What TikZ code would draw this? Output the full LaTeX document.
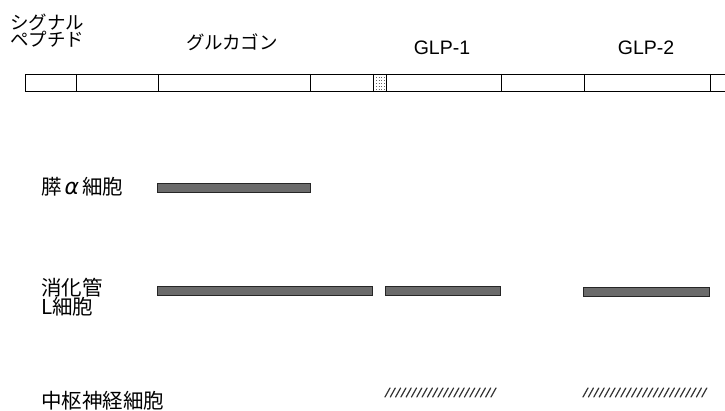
\documentclass[tikz,border=0pt]{standalone}
\usepackage{fontspec}
\setmainfont{Noto Sans CJK JP}
\newfontfamily\latinsans{Liberation Sans}
\newfontfamily\grkfont{DejaVu Sans}
\begin{document}
\begin{tikzpicture}[x=1pt,y=-1pt,
  toplabel/.style={font=\fontsize{18.5}{20}\selectfont, inner sep=0pt, align=left},
  glplabel/.style={font=\latinsans\fontsize{19.5}{21}\selectfont, inner sep=0pt},
  leftlabel/.style={font=\fontsize{20.5}{22}\selectfont, inner sep=0pt, anchor=west, align=left},
  segline/.style={draw=black, line width=0.9pt},
  expbar/.style={fill=black!58, draw=black!85, line width=0.8pt},
  hatchstroke/.style={draw=black!80, line width=1.2pt, line cap=round}]
\useasboundingbox (0,0) rectangle (725,411);
% top labels
\node[toplabel, anchor=west] (sig) at (10,31) {シグナル\\[-3pt]ペプチド};
\node[toplabel] (glu) at (232,42) {グルカゴン};
\node[glplabel] (glp1) at (442,48) {GLP-1};
\node[glplabel] (glp2) at (646,48) {GLP-2};
% precursor bar
\draw[segline] (725,74) -- (25,74) -- (25,91) -- (725,91);
\foreach \xx in {76,158.5,310,373.5,386.5,501,584,710}
  \draw[segline] (\xx,74) -- (\xx,91);
\foreach \yy in {77,80,83,86,89}
  \draw[black!60, line width=0.6pt, dotted] (376,\yy) -- (384,\yy);
% left labels
\node[leftlabel] (alpha) at (41,187) {膵\hspace{3pt}{\grkfont\itshape\fontsize{22}{22}\selectfont α}\hspace{3pt}細胞};
\node[leftlabel] (gut) at (41,297) {消化管\\[-3pt]L細胞};
\node[leftlabel] (cns) at (41,401) {中枢神経細胞};
% expression bars
\draw[expbar] (157.5,183) rectangle (310,192);
\draw[expbar] (157.5,286) rectangle (372,295);
\draw[expbar] (385.5,286) rectangle (500,295);
\draw[expbar] (583,287) rectangle (709,296);
% hatched bars
\foreach \xx in {385,390.3,...,496}
  \draw[hatchstroke] (\xx,397) -- (\xx+5,388);
\foreach \xx in {583,588.4,...,704}
  \draw[hatchstroke] (\xx,397) -- (\xx+5,388);
\end{tikzpicture}
\end{document}
